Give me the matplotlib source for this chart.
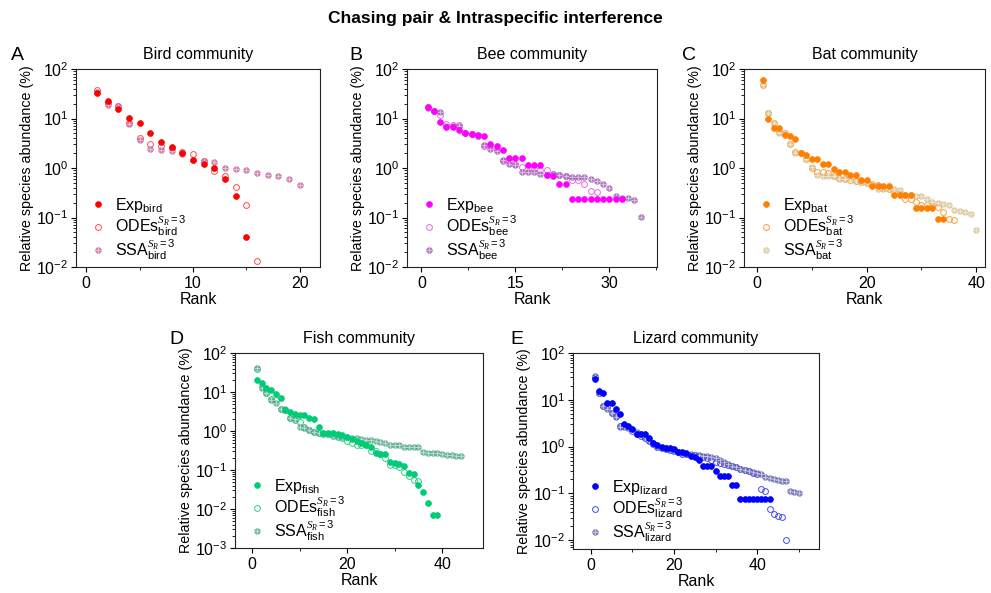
import matplotlib
matplotlib.use("Agg")
import matplotlib.pyplot as plt
from matplotlib.ticker import LogLocator, LogFormatterMathtext, NullFormatter, MultipleLocator

plt.rcParams['font.family'] = ['Liberation Sans', 'DejaVu Sans']
plt.rcParams['mathtext.fontset'] = 'custom'
plt.rcParams['mathtext.rm'] = 'Liberation Sans'
plt.rcParams['mathtext.it'] = 'Liberation Serif:italic'
plt.rcParams['mathtext.bf'] = 'Liberation Sans:bold'

# ---------------- data ----------------
bird_exp = [32, 22.4, 15.4, 10.1, 8.1, 5.0, 3.34, 2.64, 2.03, 1.44, 1.22, 0.98, 0.61, 0.277, 0.041]
bird_ode = [37.5, 21, 18, 8.0, 4.0, 3.0, 2.77, 2.49, 2.09, 1.88, 1.37, 0.86, 0.69, 0.42, 0.178, 0.0135]
bird_ssa = [35, 19, 17.7, 7.9, 3.67, 2.45, 2.27, 2.16, 1.88, 1.44, 1.37, 1.31, 1.0, 0.97, 0.93,
            0.78, 0.71, 0.68, 0.59, 0.46]

bee_exp = [17.3, 14.4, 8.4, 6.8, 6.8, 5.9, 5.1, 4.9, 4.7, 4.4, 3.05, 2.74, 2.31, 1.62, 1.62, 1.62,
           1.17, 1.17, 1.17, 0.72, 0.70, 0.47, 0.47, 0.236, 0.236, 0.236, 0.236, 0.236, 0.236,
           0.236, 0.236, 0.236]
bee_ode = [16.8, 14, 11.9, 7.6, 7.4, 7.4, 5.1, 4.9, 4.5, 2.8, 2.74, 2.42, 1.4, 1.4, 1.22, 1.06,
           0.99, 0.95, 0.92, 0.92, 0.75, 0.71, 0.70, 0.57, 0.58, 0.48, 0.35, 0.33]
bee_ssa = [16.3, 14, 13.3, 7.2, 7.2, 6.9, 5.1, 4.9, 4.4, 2.9, 2.42, 2.24, 1.47, 1.2, 1.15, 0.84,
           0.82, 0.82, 0.74, 0.73, 0.75, 0.71, 0.70, 0.65, 0.65, 0.65, 0.59, 0.54, 0.475, 0.39,
           0.27, 0.244, 0.246, 0.23, 0.102]

bat_exp = [59, 10, 6.5, 6.3, 4.6, 4.4, 3.9, 2.0, 1.8, 1.55, 1.55, 1.2, 1.2, 0.95, 0.82, 0.82,
           0.71, 0.71, 0.57, 0.57, 0.43, 0.43, 0.43, 0.43, 0.29, 0.29, 0.29, 0.29, 0.155, 0.155,
           0.155, 0.155, 0.095, 0.095]
bat_ode = [47, 13, 8.0, 5.3, 5.0, 3.1, 2.1, 2.0, 1.5, 1.0, 0.82, 0.82, 0.78, 0.70, 0.62, 0.60,
           0.58, 0.55, 0.52, 0.50, 0.47, 0.45, 0.40, 0.37, 0.35, 0.30, 0.24, 0.24, 0.21, 0.18,
           0.175, 0.17, 0.165, 0.13, 0.093, 0.09]
bat_ssa = [47, 13, 8.3, 5.2, 5.2, 3.0, 2.0, 2.0, 1.5, 1.05, 0.73, 0.69, 0.69, 0.69, 0.61, 0.61,
           0.62, 0.56, 0.52, 0.50, 0.48, 0.38, 0.37, 0.37, 0.37, 0.36, 0.28, 0.28, 0.27, 0.266,
           0.24, 0.21, 0.20, 0.19, 0.18, 0.145, 0.137, 0.128, 0.115, 0.056]

fish_exp = [20, 17.5, 12.7, 11.1, 8.8, 7.2, 3.4, 3.0, 2.8, 2.5, 2.5, 2.1, 2.05, 1.3, 0.9, 0.88,
            0.87, 0.82, 0.78, 0.7, 0.62, 0.55, 0.5, 0.45, 0.4, 0.27, 0.26, 0.26, 0.16, 0.15,
            0.145, 0.126, 0.085, 0.08, 0.041, 0.0275, 0.014, 0.007, 0.007]
fish_ode = [40, 13.5, 9.2, 6.8, 6.3, 3.6, 3.4, 2.1, 1.9, 1.7, 1.23, 1.05, 0.95, 0.88, 0.86, 0.83,
            0.76, 0.70, 0.65, 0.56, 0.48, 0.45, 0.45, 0.45, 0.31, 0.31, 0.26, 0.20, 0.133, 0.133,
            0.12, 0.089, 0.07, 0.055, 0.053]
fish_ssa = [41, 13, 9.5, 6.2, 5.25, 3.6, 3.6, 2.2, 2.0, 1.23, 1.18, 1.05, 0.95, 0.88, 0.88, 0.86,
            0.78, 0.75, 0.71, 0.71, 0.67, 0.65, 0.62, 0.58, 0.58, 0.54, 0.52, 0.48, 0.45, 0.45,
            0.43, 0.39, 0.38, 0.38, 0.38, 0.29, 0.28, 0.27, 0.27, 0.26, 0.24, 0.24, 0.235, 0.226]

lizard_exp = [27.4, 15.7, 14.3, 8.5, 8.5, 6.5, 5.06, 3.1, 2.8, 2.4, 1.9, 1.9, 1.85, 1.5, 1.2,
              1.08, 1.0, 0.95, 0.95, 0.9, 0.77, 0.75, 0.73, 0.63, 0.61, 0.52, 0.38, 0.38, 0.38,
              0.305, 0.232, 0.232, 0.232, 0.152, 0.152, 0.077, 0.077, 0.077, 0.077, 0.077,
              0.077, 0.077, 0.077]
lizard_ode = [30, 14, 7.5, 7.0, 5.2, 4.5, 2.7, 2.7, 2.6, 2.2, 1.9, 1.7, 1.5, 1.3, 1.15, 1.0,
              0.93, 0.88, 0.85, 0.8, 0.75, 0.7, 0.68, 0.66, 0.66, 0.63, 0.6, 0.58, 0.52, 0.47,
              0.45, 0.42, 0.4, 0.38, 0.36, 0.34, 0.32, 0.3, 0.28, 0.26, 0.126, 0.115, 0.046,
              0.037, 0.033, 0.031, 0.0099]
lizard_ssa = [32, 14, 7.5, 6.5, 5.1, 4.3, 2.65, 2.65, 2.5, 2.35, 2.1, 1.9, 1.6, 1.3, 1.2, 1.0,
              0.95, 0.92, 0.85, 0.82, 0.75, 0.72, 0.7, 0.68, 0.67, 0.66, 0.64, 0.62, 0.61, 0.58,
              0.52, 0.47, 0.42, 0.39, 0.36, 0.34, 0.32, 0.305, 0.29, 0.28, 0.26, 0.22, 0.21, 0.2,
              0.19, 0.185, 0.18, 0.114, 0.107, 0.1]

communities = ['bird', 'bee', 'bat', 'fish', 'lizard']
titles = ['Bird community', 'Bee community', 'Bat community', 'Fish community', 'Lizard community']
letters = ['A', 'B', 'C', 'D', 'E']
exp_data = [bird_exp, bee_exp, bat_exp, fish_exp, lizard_exp]
ode_data = [bird_ode, bee_ode, bat_ode, fish_ode, lizard_ode]
ssa_data = [bird_ssa, bee_ssa, bat_ssa, fish_ssa, lizard_ssa]
xticks_major = [[0, 10, 20], [0, 15, 30], [0, 20, 40], [0, 20, 40], [0, 20, 40]]

# ---------------- styles ----------------
W, H = 991, 593
boxes_px = [(76, 69, 320, 267), (407, 69, 657, 267), (744, 69, 985, 267),
            (235, 353, 483, 548), (573, 353, 819, 549)]
xlims = [(-0.95, 21.9), (-2.3, 37.6), (-2.4, 41.6), (-3.6, 48.6), (-4.3, 54.9)]
ylims = [(0.01, 100), (0.01, 100), (0.01, 100), (0.001, 100), (0.0065, 100)]
minor_step = [5, 7.5, 10, 10, 10]
c_exp = ['#FF0000', '#FF00FF', '#FF7F00', '#00CC77', '#0000FF']
c_ode = ['#FF4C4C', '#EE66EE', '#FF9A3C', '#33CC88', '#4848FF']
c_ssa = ['#C0609E', '#9B59AE', '#D6BE8C', '#4FA584', '#6464AC']
letter_px = [(17, 56), (356, 56), (689, 56), (176, 340), (517, 340)]

fig = plt.figure(figsize=(W / 100, H / 100), dpi=100)
fig.text(0.5, 1 - 18 / H, 'Chasing pair & Intraspecific interference',
         ha='center', va='center', fontsize=12.5, fontweight='bold')

ms = 4.2
for i, name in enumerate(communities):
    l, t, r, b = boxes_px[i]
    wpx, hpx = r - l, b - t
    ax = fig.add_axes([l / W, 1 - b / H, wpx / W, hpx / H])
    ex = exp_data[i]; od = ode_data[i]; ss = ssa_data[i]
    rx_e = list(range(1, len(ex) + 1))
    rx_o = list(range(1, len(od) + 1))
    rx_s = list(range(1, len(ss) + 1))
    h1, = ax.plot(rx_e, ex, 'o', ms=ms, mfc=c_exp[i], mec=c_exp[i], mew=0.5, ls='none', zorder=3)
    h2, = ax.plot(rx_o, od, 'o', ms=ms, mfc='none', mec=c_ode[i], mew=0.7, ls='none', zorder=2)
    h3a, = ax.plot(rx_s, ss, 'o', ms=ms, mfc=c_ssa[i], mec=c_ssa[i], mew=0.4, alpha=0.75,
                   ls='none', zorder=2.5)
    h3b, = ax.plot(rx_s, ss, '+', ms=ms, color='white', mew=0.5, alpha=0.6, ls='none', zorder=2.6)
    ax.set_yscale('log')
    ax.set_xlim(*xlims[i])
    ax.set_ylim(*ylims[i])
    ax.yaxis.set_major_locator(LogLocator(base=10, numticks=10))
    ax.yaxis.set_major_formatter(LogFormatterMathtext())
    ax.yaxis.set_minor_locator(LogLocator(base=10, subs=range(2, 10), numticks=10))
    ax.yaxis.set_minor_formatter(NullFormatter())
    ax.set_xticks(xticks_major[i])
    ax.xaxis.set_minor_locator(MultipleLocator(minor_step[i]))
    ax.tick_params(which='major', direction='out', length=3.5, width=0.8, labelsize=11.5, pad=2)
    ax.tick_params(which='minor', direction='out', length=2, width=0.6)
    ax.tick_params(axis='x', which='major', pad=3)
    for sp in ax.spines.values():
        sp.set_linewidth(0.8)
        sp.set_color('#222222')
    ax.set_xlabel('Rank', fontsize=11.5, labelpad=1)
    ax.set_ylabel('Relative species abundance (%)', fontsize=10.3, labelpad=1.5)
    ax.set_title(titles[i], fontsize=11.5, pad=7)
    labels = [r'Exp$_{\mathrm{%s}}$' % name,
              r'ODEs$_{\mathrm{%s}}^{S_R=3}$' % name,
              r'SSA$_{\mathrm{%s}}^{S_R=3}$' % name]
    ax.legend([h1, h2, (h3a, h3b)], labels, loc='lower left', frameon=False, fontsize=11.5,
              handlelength=0.9, handletextpad=0.6, labelspacing=-0.05, borderaxespad=0.0,
              borderpad=0.0, bbox_to_anchor=(15 / wpx, 5 / hpx))
    lx, ly = letter_px[i]
    fig.text(lx / W, 1 - ly / H, letters[i], ha='center', va='center', fontsize=14)

fig.savefig('out.png', dpi=100)
